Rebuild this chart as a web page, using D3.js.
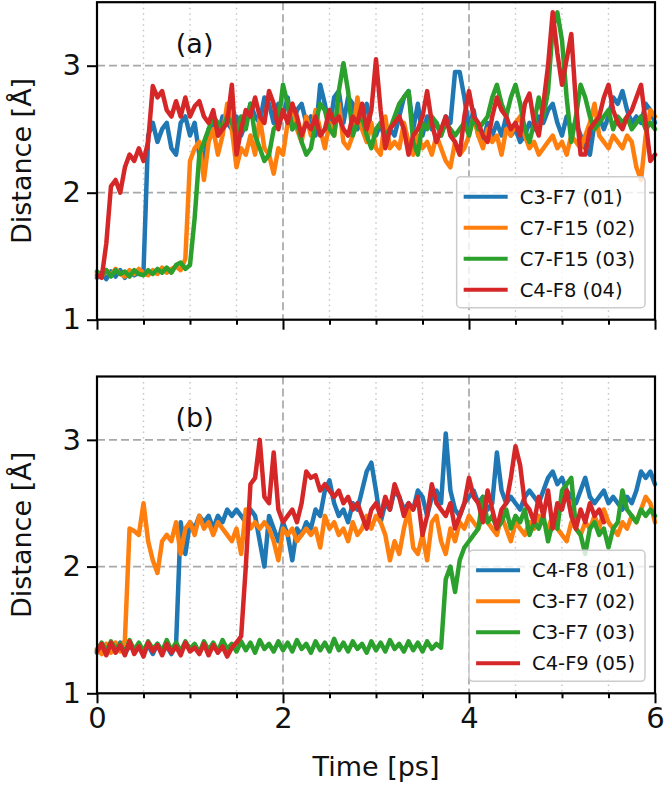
<!DOCTYPE html>
<html><head><meta charset="utf-8">
<script src="https://cdn.jsdelivr.net/npm/d3@7"></script>
<style>
body{margin:0;background:#fff}
svg{display:block}
text{font-family:"DejaVu Sans",sans-serif;fill:#111}
</style>
</head><body>
<svg id="chart" width="666" height="793"></svg>
<script>
// ---------- data ----------
const timeStep = 0.05; // ps between samples
const xTicks = [0, 2, 4, 6];
const xMinorTicks = [0.5, 1, 1.5, 2.5, 3, 3.5, 4.5, 5, 5.5];
const yTicks = [1, 2, 3];
const colors = ["#1f77b4", "#ff7f0e", "#2ca02c", "#d62728"];

const labelsA = ["C3-F7 (01)", "C7-F15 (02)", "C7-F15 (03)", "C4-F8 (04)"];
const labelsB = ["C4-F8 (01)", "C3-F7 (02)", "C3-F7 (03)", "C4-F9 (05)"];

const a01 = [1.33,1.37,1.32,1.38,1.34,1.39,1.33,1.38,1.35,1.37,
  1.38,2.45,2.55,2.4,2.5,2.55,2.35,2.3,2.55,2.6,
  2.45,2.55,2.3,2.25,2.5,2.55,2.45,2.6,2.55,2.5,
  2.6,2.45,2.55,2.7,2.6,2.55,2.75,2.7,2.55,2.7,
  2.6,2.75,2.5,2.65,2.7,2.55,2.6,2.45,2.85,2.7,
  2.5,2.75,2.8,2.55,2.75,2.7,2.5,2.6,2.7,2.5,
  2.45,2.55,2.4,2.5,2.45,2.6,2.75,2.8,2.5,2.7,
  2.45,2.6,2.5,2.55,2.45,2.6,2.55,2.95,2.95,2.75,
  2.5,2.65,2.45,2.4,2.55,2.45,2.55,2.45,2.6,2.45,
  2.5,2.4,2.45,2.55,2.5,2.6,2.55,2.65,2.7,2.55,
  2.45,2.6,2.5,2.55,2.45,2.35,2.3,2.55,2.6,2.5,
  2.6,2.75,2.7,2.8,2.65,2.55,2.6,2.55,2.7,2.65,
  2.55];
const a02 = [1.37,1.34,1.39,1.35,1.40,1.36,1.34,1.39,1.36,1.40,
  1.37,1.35,1.39,1.36,1.41,1.37,1.40,1.42,1.39,1.48,
  2.25,2.35,2.4,2.1,2.4,2.5,2.3,2.45,2.7,2.5,
  2.2,2.35,2.3,2.45,2.3,2.6,2.35,2.3,2.15,2.35,
  2.3,2.55,2.7,2.5,2.4,2.6,2.45,2.65,2.5,2.35,
  2.55,2.45,2.7,2.4,2.35,2.45,2.75,2.5,2.4,2.55,
  2.35,2.3,2.6,2.35,2.4,2.35,2.55,2.4,2.3,2.45,
  2.35,2.4,2.3,2.45,2.35,2.25,2.2,2.4,2.3,2.35,
  2.45,2.6,2.45,2.35,2.5,2.4,2.45,2.3,2.5,2.45,
  2.55,2.6,2.45,2.35,2.4,2.3,2.35,2.4,2.45,2.35,
  2.4,2.3,2.45,2.4,2.35,2.45,2.55,2.7,2.45,2.4,
  2.35,2.45,2.4,2.35,2.45,2.4,2.2,2.1,2.45,2.65,
  2.6];
const a03 = [1.38,1.35,1.39,1.34,1.39,1.36,1.38,1.34,1.39,1.36,
  1.35,1.39,1.36,1.40,1.37,1.41,1.37,1.43,1.45,1.40,
  1.43,1.8,2.3,2.4,2.5,2.6,2.55,2.5,2.6,2.55,
  2.45,2.6,2.5,2.7,2.45,2.35,2.25,2.3,2.5,2.55,
  2.85,2.7,2.5,2.55,2.4,2.3,2.35,2.55,2.7,2.65,
  2.5,2.45,2.8,3.02,2.8,2.45,2.55,2.6,2.45,2.35,
  2.5,2.55,2.45,2.5,2.6,2.7,2.75,2.8,2.4,2.3,
  2.55,2.5,2.6,2.55,2.45,2.55,2.5,2.45,2.5,2.55,
  2.45,2.6,2.5,2.55,2.6,2.75,2.85,2.7,2.6,2.75,
  2.85,2.7,2.5,2.4,2.55,2.75,2.6,2.8,3.3,3.42,
  3.2,2.75,2.4,2.6,2.85,2.75,2.6,2.5,2.55,2.6,
  2.65,2.5,2.6,2.55,2.6,2.5,2.55,2.6,2.5,2.55,
  2.5];
const a04 = [1.35,1.33,1.6,2.05,2.1,2.0,2.2,2.3,2.25,2.35,
  2.25,2.4,2.84,2.75,2.8,2.65,2.6,2.72,2.6,2.75,
  2.6,2.68,2.72,2.6,2.55,2.65,2.45,2.5,2.55,2.85,
  2.3,2.5,2.65,2.6,2.75,2.6,2.55,2.8,2.7,2.5,
  2.65,2.55,2.7,2.6,2.45,2.55,2.5,2.6,2.45,2.5,
  2.65,2.55,2.6,2.5,2.45,2.6,2.55,2.7,2.5,2.65,
  3.05,2.65,2.35,2.5,2.55,2.6,2.5,2.3,2.45,2.5,
  2.6,2.8,2.55,2.4,2.5,2.6,2.45,2.4,2.3,2.6,
  2.8,2.6,2.55,2.45,2.4,2.6,2.75,2.65,2.6,2.5,
  2.55,2.45,2.7,2.78,2.55,2.45,2.7,3.0,3.42,3.1,
  2.85,3.05,3.25,2.7,2.3,2.3,2.5,2.55,2.6,2.75,
  2.85,2.65,2.55,2.5,2.6,2.65,2.75,2.85,2.55,2.25,
  2.3];

const b01 = [1.32,1.38,1.31,1.39,1.33,1.40,1.31,1.38,1.34,1.39,
  1.32,1.38,1.31,1.39,1.33,1.37,1.31,1.38,2.35,2.1,
  2.35,2.3,2.4,2.35,2.4,2.3,2.4,2.35,2.45,2.4,
  2.45,2.4,2.35,2.45,2.4,2.2,2.0,2.4,2.3,2.2,
  2.35,2.25,2.05,2.3,2.25,2.35,2.3,2.45,2.4,2.6,
  2.68,2.5,2.4,2.45,2.35,2.5,2.45,2.6,2.75,2.82,
  2.6,2.35,2.5,2.45,2.6,2.55,2.45,2.5,2.45,2.6,
  2.55,2.4,2.55,2.6,2.5,3.05,2.6,2.45,2.4,2.5,
  2.55,2.6,2.5,2.55,2.45,2.5,2.9,2.6,2.5,2.55,
  2.5,2.45,2.55,2.6,2.55,2.5,2.6,2.7,2.75,2.65,
  2.7,2.6,2.55,2.5,2.6,2.7,2.55,2.5,2.55,2.6,
  2.5,2.55,2.5,2.45,2.55,2.5,2.6,2.75,2.7,2.75,
  2.65];
const b02 = [1.35,1.31,1.39,1.32,1.40,1.33,1.42,2.3,2.28,2.25,
  2.5,2.2,2.05,1.95,2.2,2.25,2.2,2.35,2.1,2.3,
  2.35,2.25,2.4,2.3,2.35,2.25,2.35,2.3,2.25,2.2,
  2.3,2.1,2.45,2.3,2.35,2.3,2.35,2.3,2.2,2.05,
  2.3,2.25,2.3,2.2,2.25,2.3,2.25,2.3,2.15,2.4,
  2.3,2.35,2.25,2.3,2.2,2.35,2.25,2.3,2.4,2.3,
  2.4,2.35,2.25,2.05,2.2,2.1,2.3,2.45,2.15,2.1,
  2.25,2.05,2.35,2.4,2.2,2.1,2.3,2.2,2.35,2.3,
  2.4,2.35,2.3,2.4,2.35,2.3,2.25,2.4,2.3,2.2,
  2.35,2.3,2.25,2.35,2.3,2.4,2.35,2.3,2.4,2.3,
  2.25,2.2,2.35,2.3,2.25,2.35,2.3,2.4,2.3,2.45,
  2.35,2.3,2.25,2.35,2.3,2.4,2.35,2.45,2.55,2.5,
  2.35];
const b03 = [1.34,1.40,1.33,1.41,1.35,1.39,1.32,1.42,1.34,1.40,
  1.33,1.41,1.35,1.39,1.33,1.42,1.34,1.40,1.33,1.41,
  1.35,1.39,1.32,1.41,1.34,1.40,1.33,1.42,1.35,1.39,
  1.33,1.41,1.34,1.40,1.32,1.42,1.35,1.39,1.33,1.41,
  1.34,1.40,1.33,1.42,1.35,1.39,1.32,1.41,1.34,1.40,
  1.33,1.43,1.34,1.40,1.33,1.41,1.35,1.39,1.32,1.41,
  1.34,1.40,1.33,1.42,1.35,1.39,1.33,1.41,1.34,1.40,
  1.33,1.41,1.35,1.39,1.36,1.9,2.0,1.8,2.05,2.15,
  2.2,2.25,2.3,2.55,2.35,2.4,2.3,2.35,2.45,2.3,
  2.4,2.35,2.45,2.25,2.35,2.3,2.4,2.2,2.35,2.3,
  2.6,2.65,2.7,2.3,2.25,2.1,2.3,2.35,2.25,2.3,
  2.15,2.3,2.35,2.6,2.45,2.4,2.35,2.45,2.4,2.45,
  2.4];
const b05 = [1.33,1.39,1.30,1.40,1.32,1.38,1.30,1.41,1.31,1.37,
  1.29,1.40,1.33,1.38,1.30,1.39,1.32,1.37,1.30,1.40,
  1.33,1.36,1.31,1.39,1.30,1.38,1.32,1.37,1.29,1.36,
  1.40,1.45,2.0,2.65,2.7,3.0,2.55,2.5,2.9,2.45,
  2.35,2.4,2.45,2.35,2.5,2.75,2.7,2.72,2.6,2.65,
  2.6,2.55,2.6,2.5,2.55,2.45,2.5,2.4,2.3,2.45,
  2.5,2.4,2.55,2.45,2.65,2.55,2.4,2.5,2.45,2.55,
  2.25,2.4,2.65,2.5,2.45,2.4,2.5,2.3,2.4,2.5,
  2.7,2.55,2.5,2.35,2.6,2.45,2.3,2.45,2.5,2.7,
  2.95,2.8,2.5,2.45,2.35,2.55,2.4,2.6,2.3,2.5,
  2.45,2.6,2.4,2.3,2.45,2.35,2.5,2.4,2.45,2.35];

const panels = [
  {tag: "(a)", series: [a01, a02, a03, a04], labels: labelsA, top: 2.2, bottom: 319.7, xLabels: false},
  {tag: "(b)", series: [b01, b02, b03, b05], labels: labelsB, top: 376.5, bottom: 693.3, xLabels: true}
];

// ---------- drawing ----------
const svg = d3.select("#chart");
const left = 97, right = 655;
const x = d3.scaleLinear().domain([0, 6]).range([left, right]);

panels.forEach(p => {
  const y = d3.scaleLinear().domain([1, 3.5]).range([p.bottom, p.top]);
  const g = svg.append("g");

  // grid
  g.selectAll(".minor").data(xMinorTicks).enter().append("line")
    .attr("x1", d => x(d)).attr("x2", d => x(d)).attr("y1", p.top).attr("y2", p.bottom)
    .attr("stroke", "#c4c4c4").attr("stroke-width", 1.4).attr("stroke-dasharray", "1.5,4");
  g.selectAll(".majx").data(xTicks.filter(d => d > 0 && d < 6)).enter().append("line")
    .attr("x1", d => x(d)).attr("x2", d => x(d)).attr("y1", p.top).attr("y2", p.bottom)
    .attr("stroke", "#a8a8a8").attr("stroke-width", 1.7).attr("stroke-dasharray", "8,4");
  g.selectAll(".majy").data(yTicks.filter(d => d > 1)).enter().append("line")
    .attr("x1", left).attr("x2", right).attr("y1", d => y(d)).attr("y2", d => y(d))
    .attr("stroke", "#a8a8a8").attr("stroke-width", 1.7).attr("stroke-dasharray", "8,4");

  // lines
  const line = d3.line().x((d, i) => x(i * timeStep)).y(d => y(d)).curve(d3.curveLinear);
  p.series.forEach((s, k) => {
    g.append("path").datum(s).attr("d", line)
      .attr("fill", "none").attr("stroke", colors[k]).attr("stroke-width", 4.5)
      .attr("stroke-linejoin", "round").attr("stroke-linecap", "round");
  });

  // frame
  g.append("rect").attr("x", left).attr("y", p.top).attr("width", right - left).attr("height", p.bottom - p.top)
    .attr("fill", "none").attr("stroke", "#000").attr("stroke-width", 2.2);

  // axes
  const xAxis = d3.axisBottom(x).tickValues(xTicks).tickSize(10).tickPadding(4)
    .tickFormat(p.xLabels ? d3.format("d") : () => "");
  const gx = g.append("g").attr("transform", `translate(0,${p.bottom})`).call(xAxis);
  const gxm = g.append("g").attr("transform", `translate(0,${p.bottom})`)
    .call(d3.axisBottom(x).tickValues(xMinorTicks).tickSize(5).tickFormat(() => ""));
  const gy = g.append("g").attr("transform", `translate(${left},0)`)
    .call(d3.axisLeft(y).tickValues(yTicks).tickSize(10).tickPadding(6).tickFormat(d3.format("d")));
  [gx, gxm, gy].forEach(a => {
    a.select(".domain").remove();
    a.selectAll(".tick line").attr("stroke", "#000").attr("stroke-width", 2);
    a.selectAll(".tick text").style("font-size", "29px").attr("fill", "#111");
  });

  // y label
  g.append("text")
    .attr("transform", `translate(31,${(p.top + p.bottom) / 2}) rotate(-90)`)
    .attr("text-anchor", "middle").style("font-size", "27px").text("Distance [Å]");

  // panel tag
  g.append("text").attr("x", x(1.05)).attr("y", y(3.1)).attr("text-anchor", "middle")
    .style("font-size", "27px").text(p.tag);

  // legend
  const lg = g.append("g");
  const rowY = [p.bottom - 123, p.bottom - 92, p.bottom - 61, p.bottom - 30];
  const boxRight = 645;
  const texts = p.labels.map((lab, k) => lg.append("text").attr("y", rowY[k] + 7)
    .style("font-size", "19.5px").text(lab));
  const tw = d3.max(texts, t => t.node().getComputedTextLength());
  const textX = boxRight - 10 - tw;
  const boxLeft = textX - 12 - 44 - 7;
  lg.insert("rect", ":first-child").attr("x", boxLeft).attr("y", p.bottom - 143)
    .attr("width", boxRight - boxLeft).attr("height", 131).attr("rx", 4)
    .attr("fill", "#fff").attr("fill-opacity", 0.8).attr("stroke", "#cccccc").attr("stroke-width", 1.5);
  texts.forEach(t => t.attr("x", textX));
  p.labels.forEach((lab, k) => {
    lg.append("line").attr("x1", boxLeft + 7).attr("x2", boxLeft + 51)
      .attr("y1", rowY[k]).attr("y2", rowY[k]).attr("stroke", colors[k]).attr("stroke-width", 4);
  });
});

svg.append("text").attr("x", x(3)).attr("y", 776).attr("text-anchor", "middle")
  .style("font-size", "27px").text("Time [ps]");
</script>
</body></html>
